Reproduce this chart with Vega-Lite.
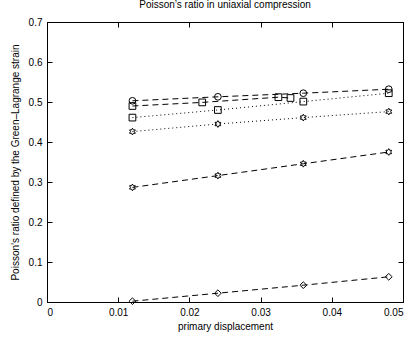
{
  "$schema": "https://vega.github.io/schema/vega-lite/v6.json",
  "width": 356,
  "height": 280,
  "padding": {"left": 47, "top": 22, "right": 10, "bottom": 38},
  "autosize": {"type": "none"},
  "title": {"text": "Poisson’s ratio in uniaxial compression", "fontSize": 10, "fontWeight": "normal", "font": "Liberation Sans", "offset": 7, "color": "black"},
  "config": {
    "view": {"stroke": "black", "strokeWidth": 1},
    "axis": {"domainColor": "black", "domainWidth": 1, "tickColor": "black", "tickWidth": 1, "tickSize": -5, "labelPadding": 10, "labelFont": "Liberation Sans", "titleFont": "Liberation Sans", "labelFontSize": 10, "titleFontSize": 10, "titleFontWeight": "normal", "labelColor": "black", "titleColor": "black", "grid": false}
  },
  "data": {"values": [
    {"series": "A", "x": 0.012, "y": 0.503},
    {"series": "A", "x": 0.024, "y": 0.513},
    {"series": "A", "x": 0.036, "y": 0.522},
    {"series": "A", "x": 0.048, "y": 0.532},
    {"series": "B", "x": 0.012, "y": 0.490},
    {"series": "B", "x": 0.0218, "y": 0.499},
    {"series": "B", "x": 0.0325, "y": 0.512},
    {"series": "B", "x": 0.0342, "y": 0.510},
    {"series": "C", "x": 0.012, "y": 0.461},
    {"series": "C", "x": 0.024, "y": 0.480},
    {"series": "C", "x": 0.036, "y": 0.501},
    {"series": "C", "x": 0.048, "y": 0.522},
    {"series": "D", "x": 0.012, "y": 0.426},
    {"series": "D", "x": 0.024, "y": 0.445},
    {"series": "D", "x": 0.036, "y": 0.461},
    {"series": "D", "x": 0.048, "y": 0.476},
    {"series": "E", "x": 0.012, "y": 0.2865},
    {"series": "E", "x": 0.024, "y": 0.316},
    {"series": "E", "x": 0.036, "y": 0.3456},
    {"series": "E", "x": 0.048, "y": 0.375},
    {"series": "F", "x": 0.012, "y": 0.002},
    {"series": "F", "x": 0.024, "y": 0.022},
    {"series": "F", "x": 0.036, "y": 0.042},
    {"series": "F", "x": 0.048, "y": 0.063}
  ]},
  "resolve": {"axis": {"x": "independent", "y": "independent"}},
  "layer": [
    {
      "mark": {"type": "line", "strokeWidth": 1, "color": "black"},
      "encoding": {
        "x": {"field": "x", "type": "quantitative", "scale": {"domain": [0, 0.05], "nice": false}, "axis": {"orient": "bottom", "values": [0, 0.01, 0.02, 0.03, 0.04, 0.05], "format": "~g", "title": "primary displacement"}},
        "y": {"field": "y", "type": "quantitative", "scale": {"domain": [0, 0.7], "nice": false}, "axis": {"orient": "left", "values": [0, 0.1, 0.2, 0.3, 0.4, 0.5, 0.6, 0.7], "format": "~g", "title": "Poisson’s ratio defined by the Green–Lagrange strain", "titlePadding": 8}},
        "detail": {"field": "series"},
        "strokeDash": {"field": "series", "type": "nominal", "scale": {"domain": ["A", "B", "C", "D", "E", "F"], "range": [[6, 4], [6, 4], [1, 3], [1, 3], [6, 4], [6, 4]]}, "legend": null}
      }
    },
    {
      "mark": {"type": "point", "filled": false, "color": "black", "strokeWidth": 1, "size": 45, "opacity": 1},
      "encoding": {
        "x": {"field": "x", "type": "quantitative", "axis": null},
        "y": {"field": "y", "type": "quantitative", "axis": null},
        "shape": {"field": "series", "type": "nominal", "scale": {"domain": ["A", "B", "C", "D", "E", "F"], "range": ["circle", "square", "square", "M0,-1L0.289,-0.5L0.866,-0.5L0.577,0L0.866,0.5L0.289,0.5L0,1L-0.289,0.5L-0.866,0.5L-0.577,0L-0.866,-0.5L-0.289,-0.5Z", "M0,-1L0.289,-0.5L0.866,-0.5L0.577,0L0.866,0.5L0.289,0.5L0,1L-0.289,0.5L-0.866,0.5L-0.577,0L-0.866,-0.5L-0.289,-0.5Z", "diamond"]}, "legend": null}
      }
    },
    {
      "mark": {"type": "point", "opacity": 0},
      "encoding": {
        "x": {"field": "x", "type": "quantitative", "axis": {"orient": "top", "values": [0, 0.01, 0.02, 0.03, 0.04, 0.05], "labels": false, "title": null}},
        "y": {"field": "y", "type": "quantitative", "axis": {"orient": "right", "values": [0, 0.1, 0.2, 0.3, 0.4, 0.5, 0.6, 0.7], "labels": false, "title": null}}
      }
    }
  ]
}
